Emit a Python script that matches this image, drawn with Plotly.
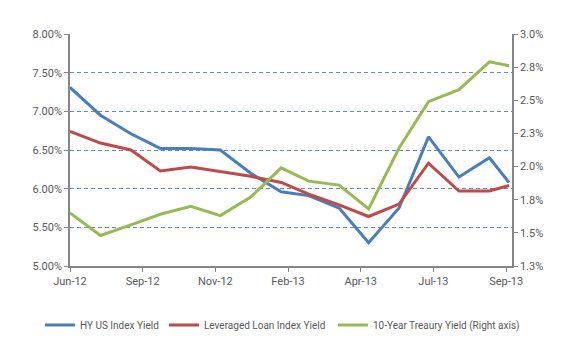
import plotly.graph_objects as go

dates = ["2012-06-30", "2012-07-31", "2012-08-31", "2012-09-30", "2012-10-31",
         "2012-11-30", "2012-12-31", "2013-01-31", "2013-02-28", "2013-03-31",
         "2013-04-30", "2013-05-31", "2013-06-30", "2013-07-31", "2013-08-31",
         "2013-09-20"]
hy_yield = [7.31, 6.95, 6.71, 6.52, 6.52, 6.50, 6.20, 5.96, 5.91, 5.75,
            5.30, 5.75, 6.67, 6.15, 6.40, 6.08]
loan_yield = [6.74, 6.59, 6.50, 6.23, 6.28, 6.22, 6.16, 6.08, 5.93, 5.79,
              5.64, 5.80, 6.33, 5.97, 5.97, 6.04]
ust10_yield = [1.65, 1.48, 1.56, 1.64, 1.70, 1.63, 1.77, 1.99, 1.89, 1.86,
               1.68, 2.14, 2.49, 2.58, 2.79, 2.76]

names = ["HY US Index Yield", "Leveraged Loan Index Yield", "10-Year Treaury Yield (Right axis)"]
colors = ["#4A7EBB", "#BE4B48", "#98B954"]
legend_widths = [79, 124, 165]

FONT = "Roboto"
GRAY = "#595959"

fig = go.Figure()
fig.add_trace(go.Scatter(x=dates, y=hy_yield, name=names[0], mode="lines",
                         line=dict(color=colors[0], width=3), legendwidth=legend_widths[0]))
fig.add_trace(go.Scatter(x=dates, y=loan_yield, name=names[1], mode="lines",
                         line=dict(color=colors[1], width=3), legendwidth=legend_widths[1]))
fig.add_trace(go.Scatter(x=dates, y=ust10_yield, name=names[2], mode="lines",
                         line=dict(color=colors[2], width=3), yaxis="y2",
                         legendwidth=legend_widths[2]))

# page has an 8px default body margin; figure is sized to fit the 580x359 window
fig.update_layout(
    width=572, height=351,
    margin=dict(l=62, r=68, t=26, b=93, autoexpand=False),
    paper_bgcolor="white", plot_bgcolor="white",
    font=dict(family=FONT, size=11, color=GRAY),
    showlegend=True,
    legend=dict(orientation="h", x=-0.068, xanchor="left", y=-0.254, yanchor="middle",
                font=dict(family=FONT, size=10, color=GRAY), itemwidth=30,
                traceorder="normal", itemclick=False),
    xaxis=dict(type="date", range=["2012-06-30", "2013-09-23"],
               tick0="2012-06-30", dtick=74 * 86400000, tickformat="%b-%y",
               showline=True, linecolor="#868686", linewidth=1.5,
               ticks="outside", ticklen=4, tickcolor="#868686",
               showgrid=False, zeroline=False,
               tickfont=dict(family=FONT, size=11, color=GRAY)),
    yaxis=dict(range=[5, 8], dtick=0.5, tickformat=".2f", ticksuffix="%",
               showline=True, linecolor="#868686", linewidth=1.5,
               ticks="outside", ticklen=4, tickcolor="#868686",
               showgrid=True, gridcolor="#5B8BD0", gridwidth=1, griddash="4px,3px",
               zeroline=False,
               tickfont=dict(family=FONT, size=11, color=GRAY)),
    yaxis2=dict(range=[1.25, 3.0], dtick=0.25, tickformat=".1f", ticksuffix="%",
                overlaying="y", side="right",
                showline=True, linecolor="#868686", linewidth=1.5,
                ticks="outside", ticklen=4, tickcolor="#868686",
                showgrid=False, zeroline=False,
                tickfont=dict(family=FONT, size=11, color=GRAY)),
)

fig.write_html("out.html")
